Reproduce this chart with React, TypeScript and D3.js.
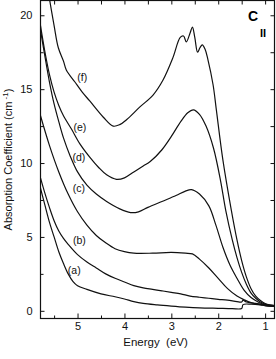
//@ts-nocheck
import React, { useRef, useEffect } from 'react'
import * as d3 from 'd3'

// spectra: [energy (eV), absorption coefficient (cm-1)]
const curveA = [
  [5.79, 8.3], [5.7, 7.2], [5.6, 6.0], [5.5, 5.0], [5.4, 4.0], [5.3, 3.2], [5.2, 2.5], [5.1, 2.0],
  [5.0, 1.7], [4.8, 1.45], [4.5, 1.15], [4.2, 0.95], [4.0, 0.8], [3.8, 0.62], [3.6, 0.5], [3.3, 0.4],
  [3.0, 0.32], [2.7, 0.25], [2.4, 0.2], [2.0, 0.17], [1.7, 0.15], [1.5, 0.16], [1.47, 0.42],
  [1.3, 0.45], [1.1, 0.4], [1.0, 0.35], [0.8, 0.3]
]
const curveB = [
  [5.79, 9.0], [5.7, 8.0], [5.6, 7.0], [5.5, 6.1], [5.4, 5.4], [5.3, 4.9], [5.2, 4.5], [5.0, 3.8],
  [4.8, 3.3], [4.6, 2.9], [4.4, 2.5], [4.2, 2.2], [4.0, 1.95], [3.8, 1.7], [3.6, 1.55], [3.4, 1.45],
  [3.2, 1.35], [3.0, 1.25], [2.8, 1.15], [2.6, 1.0], [2.4, 0.92], [2.2, 0.85], [2.0, 0.78],
  [1.8, 0.72], [1.6, 0.62], [1.5, 0.6], [1.47, 0.72], [1.4, 0.6], [1.2, 0.5], [1.0, 0.4], [0.8, 0.35]
]
const curveC = [
  [5.79, 13.2], [5.6, 11.2], [5.4, 9.4], [5.2, 7.9], [5.0, 6.7], [4.8, 5.8], [4.6, 5.1], [4.4, 4.6],
  [4.2, 4.2], [4.0, 4.0], [3.8, 3.9], [3.4, 3.9], [3.0, 3.95], [2.7, 3.9], [2.55, 3.85], [2.4, 3.5],
  [2.2, 2.9], [2.0, 2.2], [1.8, 1.5], [1.6, 1.0], [1.45, 0.75], [1.3, 0.55], [1.15, 0.45],
  [1.0, 0.35], [0.8, 0.3]
]
const curveD = [
  [5.79, 19.0], [5.7, 17.3], [5.6, 15.5], [5.5, 14.0], [5.4, 12.8], [5.3, 11.7], [5.16, 10.5],
  [5.0, 9.4], [4.8, 8.5], [4.6, 7.9], [4.38, 7.4], [4.1, 6.9], [3.87, 6.65], [3.7, 6.7], [3.5, 7.0],
  [3.2, 7.4], [2.9, 7.8], [2.7, 8.1], [2.57, 8.2], [2.4, 7.9], [2.2, 7.1], [2.05, 5.8], [1.9, 4.3],
  [1.75, 3.1], [1.6, 2.2], [1.45, 1.4], [1.3, 0.9], [1.15, 0.6], [1.0, 0.4], [0.8, 0.3]
]
const curveE = [
  [5.79, 19.3], [5.7, 17.6], [5.6, 16.0], [5.5, 14.8], [5.4, 13.9], [5.3, 13.2], [5.13, 12.3],
  [4.95, 11.3], [4.74, 10.4], [4.55, 9.7], [4.38, 9.2], [4.17, 8.9], [4.0, 9.0], [3.8, 9.4],
  [3.6, 9.8], [3.45, 10.1], [3.2, 10.9], [3.0, 11.8], [2.8, 12.8], [2.65, 13.4], [2.53, 13.6],
  [2.4, 13.3], [2.26, 12.5], [2.1, 11.0], [1.95, 8.8], [1.84, 6.8], [1.7, 4.8], [1.6, 3.6],
  [1.5, 2.6], [1.4, 1.8], [1.3, 1.2], [1.2, 0.85], [1.1, 0.6], [1.0, 0.45], [0.9, 0.35], [0.8, 0.3]
]
const curveF = [
  [5.62, 21.5], [5.5, 19.3], [5.41, 17.8], [5.3, 16.9], [5.24, 16.3], [5.06, 15.5], [4.9, 14.8],
  [4.74, 14.2], [4.45, 13.1], [4.24, 12.5], [4.1, 12.6], [3.95, 12.95], [3.67, 13.8], [3.39, 14.6],
  [3.18, 15.6], [2.97, 17.1], [2.81, 18.5], [2.74, 18.6], [2.68, 18.2], [2.6, 18.8], [2.55, 19.2],
  [2.5, 18.5], [2.44, 17.5], [2.39, 17.8], [2.34, 18.0], [2.28, 17.7], [2.22, 17.0], [2.11, 15.3],
  [2.04, 13.6], [1.9, 10.2], [1.72, 6.8], [1.6, 4.8], [1.5, 3.4], [1.4, 2.3], [1.3, 1.5],
  [1.2, 1.0], [1.1, 0.7], [1.0, 0.5], [0.9, 0.4], [0.8, 0.35]
]
const curves = [curveA, curveB, curveC, curveD, curveE, curveF]
const curveNames = ['(a)', '(b)', '(c)', '(d)', '(e)', '(f)']
// where each name sits, in data units
const nameEnergy = [5.07, 4.96, 4.97, 4.97, 4.95, 4.9]
const nameValue = [2.75, 4.75, 8.3, 10.4, 12.45, 15.8]

const xMajor = [5, 4, 3, 2, 1]
const xMinor = [5.5, 4.5, 3.5, 2.5, 1.5]
const yMajor = [0, 5, 10, 15, 20]
const yMinor = [2.5, 7.5, 12.5, 17.5]

const App = () => {
  const node = useRef(null)
  const width = 276
  const height = 359

  useEffect(() => {
    const svg = d3.select(node.current)
    svg.selectAll('*').remove()

    const left = 40.5
    const right = 274.5
    const top = 0.5
    const bottom = 318.5

    const x = d3.scaleLinear().domain([5.79, 0.8]).range([left, right])
    const y = d3.scaleLinear().domain([-0.52, 21.0]).range([bottom, top])

    svg.attr('font-family', 'Liberation Sans, Arial, sans-serif')

    svg
      .append('clipPath')
      .attr('id', 'plot-clip')
      .append('rect')
      .attr('x', left)
      .attr('y', top)
      .attr('width', right - left)
      .attr('height', bottom - top)

    const line = d3
      .line()
      .curve(d3.curveCatmullRom.alpha(0.5))
      .x((d) => x(d[0]))
      .y((d) => y(d[1]))

    const g = svg.append('g').attr('clip-path', 'url(#plot-clip)')
    curves.forEach((c) => {
      g.append('path')
        .attr('d', line(c))
        .attr('fill', 'none')
        .attr('stroke', '#111')
        .attr('stroke-width', 1.2)
    })

    // axes: ticks point inwards on all four sides
    const bottomAxis = (g) =>
      g
        .attr('transform', `translate(0,${bottom})`)
        .call(d3.axisBottom(x).tickValues(xMajor).tickSize(-5).tickPadding(4).tickFormat(d3.format('d')))
        .call((g) => g.select('.domain').remove())
    const bottomMinor = (g) =>
      g
        .attr('transform', `translate(0,${bottom})`)
        .call(d3.axisBottom(x).tickValues(xMinor).tickSize(-3).tickFormat(''))
        .call((g) => g.select('.domain').remove())
    const topAxis = (g) =>
      g
        .attr('transform', `translate(0,${top})`)
        .call(d3.axisTop(x).tickValues(xMajor.concat(xMinor)).tickSize(-4).tickFormat(''))
        .call((g) => g.select('.domain').remove())
    const leftAxis = (g) =>
      g
        .attr('transform', `translate(${left},0)`)
        .call(d3.axisLeft(y).tickValues(yMajor).tickSize(-4).tickPadding(8))
        .call((g) => g.select('.domain').remove())
    const leftMinor = (g) =>
      g
        .attr('transform', `translate(${left},0)`)
        .call(d3.axisLeft(y).tickValues(yMinor).tickSize(-3).tickFormat(''))
        .call((g) => g.select('.domain').remove())
    const rightAxis = (g) =>
      g
        .attr('transform', `translate(${right},0)`)
        .call(d3.axisRight(y).tickValues(yMajor.concat(yMinor)).tickSize(-4).tickFormat(''))
        .call((g) => g.select('.domain').remove())

    ;[bottomAxis, bottomMinor, topAxis, leftAxis, leftMinor, rightAxis].forEach((a) => {
      svg.append('g').call(a).attr('font-family', null).attr('font-size', 11)
    })
    svg.selectAll('.tick line').attr('stroke', '#111')
    svg.selectAll('.tick text').attr('fill', '#111')

    svg
      .append('rect')
      .attr('x', left)
      .attr('y', top)
      .attr('width', right - left)
      .attr('height', bottom - top)
      .attr('fill', 'none')
      .attr('stroke', '#111')
      .attr('stroke-width', 1.2)

    curveNames.forEach((name, i) => {
      svg
        .append('text')
        .attr('x', x(nameEnergy[i]))
        .attr('y', y(nameValue[i]))
        .attr('dy', '0.35em')
        .attr('text-anchor', 'middle')
        .attr('font-size', 10.5)
        .attr('fill', '#111')
        .text(name)
    })

    svg
      .append('text')
      .attr('x', 253)
      .attr('y', 21)
      .attr('text-anchor', 'middle')
      .attr('font-size', 14)
      .attr('font-weight', 'bold')
      .text('C')
    svg
      .append('text')
      .attr('x', 263)
      .attr('y', 37)
      .attr('text-anchor', 'middle')
      .attr('font-size', 11)
      .attr('font-weight', 'bold')
      .text('II')

    svg
      .append('text')
      .attr('x', (left + right) / 2 - 2)
      .attr('y', 346)
      .attr('text-anchor', 'middle')
      .attr('font-size', 11.5)
      .attr('fill', '#111')
      .attr('xml:space', 'preserve')
      .text('Energy  (eV)')

    const yl = svg
      .append('text')
      .attr('transform', `translate(12,${(top + bottom) / 2}) rotate(-90)`)
      .attr('text-anchor', 'middle')
      .attr('font-size', 11)
      .attr('fill', '#111')
    yl.append('tspan').text('Absorption Coefficient  (cm')
    yl.append('tspan').attr('dy', -4).attr('font-size', 8).text(' -1')
    yl.append('tspan').attr('dy', 4).text(')')
  }, [node])

  return (
    <svg
      ref={node}
      width={width}
      height={height}
      style={{ position: 'absolute', left: 0, top: 0, background: '#fff' }}
    ></svg>
  )
}

export default App
